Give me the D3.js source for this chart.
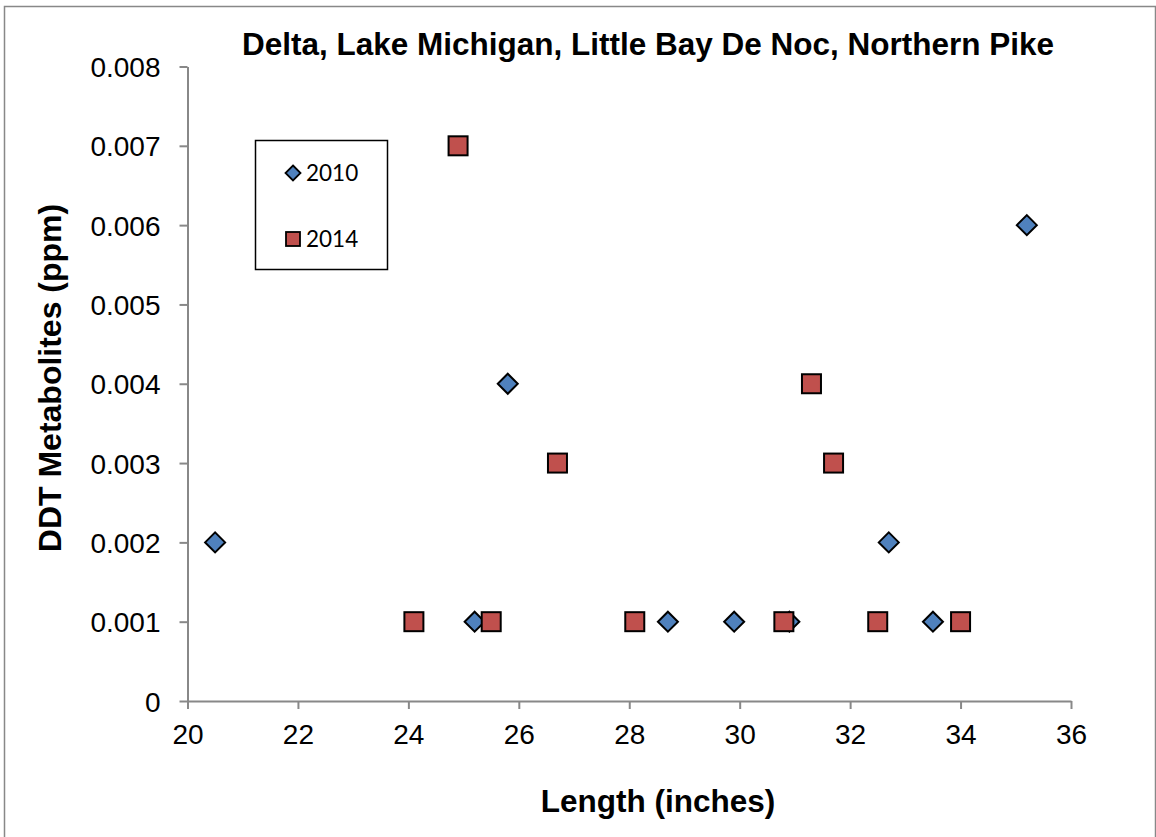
<!DOCTYPE html>
<html>
<head>
<meta charset="utf-8">
<script src="https://cdn.jsdelivr.net/npm/d3@7"></script>
<style>
  body { margin: 0; background: #fff; }
  svg { display: block; }
</style>
</head>
<body>
<div id="chart"></div>
<script>
// Data
const years = ["2010", "2014"];
const length2010 = [20.5, 25.2, 25.8, 28.7, 29.9, 30.9, 32.7, 33.5, 35.2];
const ddt2010    = [0.002, 0.001, 0.004, 0.001, 0.001, 0.001, 0.002, 0.001, 0.006];
const length2014 = [24.1, 24.9, 25.5, 26.7, 28.1, 30.8, 31.3, 31.7, 32.5, 34.0];
const ddt2014    = [0.001, 0.007, 0.001, 0.003, 0.001, 0.001, 0.004, 0.003, 0.001, 0.001];
const xTicks = [20, 22, 24, 26, 28, 30, 32, 34, 36];
const yTicks = [0, 0.001, 0.002, 0.003, 0.004, 0.005, 0.006, 0.007, 0.008];

const W = 1156, H = 837;
const margin = {top: 66.5, left: 187.5},
    width = 1071 - margin.left,
    height = 701 - margin.top;

const svg = d3.select("#chart")
  .append("svg")
    .attr("width", W)
    .attr("height", H);

// outer chart border
svg.append("rect")
  .attr("x", 4.5).attr("y", 6.5)
  .attr("width", 1151).attr("height", 840)
  .attr("fill", "none")
  .attr("stroke", "#888")
  .attr("stroke-width", 1.5);

const g = svg.append("g")
  .attr("transform", `translate(${margin.left}, ${margin.top})`);

const xScale = d3.scaleLinear().domain([20, 36]).range([0, width]);
const yScale = d3.scaleLinear().domain([0, 0.008]).range([height, 0]);

const axisColor = "#888";
const font = "'Liberation Sans', Arial, sans-serif";

// x axis
const xAxis = g.append("g")
  .attr("transform", `translate(0, ${height})`)
  .call(d3.axisBottom(xScale).tickValues(xTicks).tickSize(8).tickPadding(15).tickSizeOuter(0));

// y axis
const yAxis = g.append("g")
  .call(d3.axisLeft(yScale).tickValues(yTicks).tickSize(8).tickPadding(19).tickSizeOuter(0)
    .tickFormat(d => d === 0 ? "0" : d3.format(".3f")(d)));

[xAxis, yAxis].forEach(a => {
  a.select(".domain").attr("stroke", axisColor).attr("stroke-width", 2);
  a.selectAll(".tick line").attr("stroke", axisColor).attr("stroke-width", 2);
  a.selectAll(".tick text")
    .attr("fill", "#000")
    .style("font-family", font)
    .style("font-size", "28px");
});
yAxis.selectAll(".tick text").attr("dy", "0.36em");

// markers
const diamond = s => `M0,${-s}L${s},0L0,${s}L${-s},0Z`;
const squareSide = 19;

const pts2010 = length2010.map((x, i) => ({x: x, y: ddt2010[i]}));
const pts2014 = length2014.map((x, i) => ({x: x, y: ddt2014[i]}));

g.append("g").selectAll("path")
  .data(pts2010)
  .join("path")
    .attr("d", diamond(10))
    .attr("transform", d => `translate(${xScale(d.x)}, ${yScale(d.y)})`)
    .attr("fill", "#4f81bd")
    .attr("stroke", "#000")
    .attr("stroke-width", 2);

g.append("g").selectAll("rect")
  .data(pts2014)
  .join("rect")
    .attr("x", d => xScale(d.x) - squareSide / 2)
    .attr("y", d => yScale(d.y) - squareSide / 2)
    .attr("width", squareSide)
    .attr("height", squareSide)
    .attr("fill", "#c0504d")
    .attr("stroke", "#000")
    .attr("stroke-width", 2);

// title
svg.append("text")
  .attr("x", 648).attr("y", 55)
  .attr("text-anchor", "middle")
  .style("font-family", font)
  .style("font-weight", "bold")
  .style("font-size", "31.5px")
  .text("Delta, Lake Michigan, Little Bay De Noc, Northern Pike");

// axis titles
svg.append("text")
  .attr("x", 658).attr("y", 812)
  .attr("text-anchor", "middle")
  .style("font-family", font)
  .style("font-weight", "bold")
  .style("font-size", "31.5px")
  .text("Length (inches)");

svg.append("text")
  .attr("transform", `translate(61, 378) rotate(-90)`)
  .attr("text-anchor", "middle")
  .style("font-family", font)
  .style("font-weight", "bold")
  .style("font-size", "32px")
  .text("DDT Metabolites (ppm)");

// legend
const legend = svg.append("g");
legend.append("rect")
  .attr("x", 255.5).attr("y", 140.5)
  .attr("width", 132).attr("height", 129)
  .attr("fill", "#fff")
  .attr("stroke", "#000")
  .attr("stroke-width", 1.5);

const legendY = [173, 239];
years.forEach((yr, i) => {
  const cy = legendY[i];
  if (i === 0) {
    legend.append("path")
      .attr("d", diamond(7.5))
      .attr("transform", `translate(293, ${cy})`)
      .attr("fill", "#4f81bd").attr("stroke", "#000").attr("stroke-width", 1.8);
  } else {
    legend.append("rect")
      .attr("x", 293 - 7).attr("y", cy - 7)
      .attr("width", 14).attr("height", 14)
      .attr("fill", "#c0504d").attr("stroke", "#000").attr("stroke-width", 1.8);
  }
  legend.append("text")
    .attr("x", 306).attr("y", cy)
    .attr("dy", "0.36em")
    .style("font-family", "Lato, 'Open Sans', sans-serif")
    .style("font-size", "22.5px")
    .text(yr);
});
</script>
</body>
</html>
